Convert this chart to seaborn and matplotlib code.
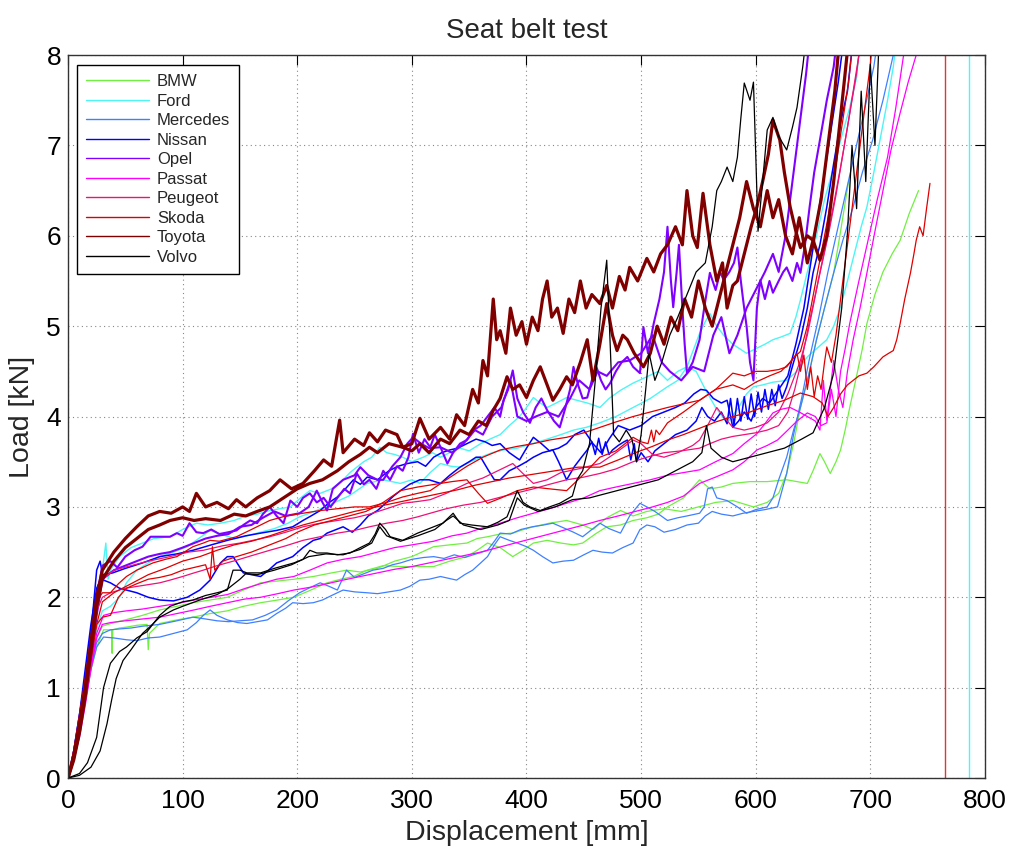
import matplotlib
matplotlib.use('Agg')
import matplotlib.pyplot as plt
import seaborn as sns
import pandas as pd

sns.set_theme(style='white')
plt.rcParams['font.family'] = ['Liberation Sans', 'DejaVu Sans']

# ---------------- data (displacement mm, load kN) ----------------
brands = ['BMW', 'Ford', 'Mercedes', 'Nissan', 'Opel', 'Passat', 'Peugeot', 'Skoda', 'Toyota', 'Volvo']
colors = ['#70f040', '#4df5f5', '#3f80ff', '#0000ff', '#8000ff', '#ff00ff', '#ee1177', '#e00000', '#800000', '#000000']

bmw_1 = [(0,0),(5,0.2),(10,0.5),(15,0.85),(20,1.2),(25,1.45),(31,1.64),(38,1.64),(38.5,1.38),(39,1.64),(45,1.66),(51,1.67),(60,1.69),(69,1.7),(70,1.42),(71,1.6),(80,1.71),(95,1.75),(109,1.78),(124,1.82),(139,1.85),(153,1.9),(168,1.94),(183,1.97),(197,2.0),(210,2.07),(226,2.16),(238,2.2),(249,2.23),(261,2.3),(275,2.35),(290,2.34),(305,2.34),(319,2.34),(333,2.4),(348,2.45),(357,2.52),(366,2.6),(377,2.55),(388,2.45),(397,2.52),(406,2.6),(418,2.63),(430,2.6),(441,2.58),(449,2.6),(460,2.7),(470,2.78),(482,2.8),(493,2.85),(505,2.88),(515,2.92),(523,3.0),(537,3.1),(551,3.3),(560,3.2),(570,3.22),(580,3.26),(595,3.28),(610,3.28),(627,3.3),(645,3.26),(650,3.4),(656,3.59),(660,3.5),(665,3.37),(670,3.5),(674,3.63),(678,3.85),(682,4.1),(688,4.45),(693,4.75),(697,5.03),(704,5.35),(711,5.6),(719,5.8),(726,5.95),(734,6.25),(742,6.5)]
bmw_2 = [(0,0),(5,0.25),(10,0.55),(15,0.9),(20,1.3),(25,1.55),(30,1.68),(40,1.72),(50,1.75),(65,1.8),(80,1.86),(95,1.9),(109,1.94),(124,1.97),(139,2.0),(153,2.08),(168,2.16),(183,2.18),(197,2.2),(214,2.23),(230,2.27),(243,2.3),(255,2.28),(270,2.32),(285,2.4),(300,2.45),(319,2.56),(333,2.58),(348,2.6),(357,2.65),(366,2.67),(377,2.7),(388,2.71),(400,2.76),(406,2.78),(420,2.82),(435,2.85),(449,2.8),(458,2.75),(470,2.88),(482,2.96),(493,2.9),(505,2.95),(520,2.98),(535,2.95),(550,3.0),(565,3.05),(580,3.07),(598,3.0),(610,3.05),(620,3.15),(627,3.37),(633,3.7),(639,4.1),(646,4.45),(653,4.85),(660,5.2),(668,5.59),(674,6.05),(681,6.6)]

ford_1 = [(0,0),(5,0.25),(10,0.6),(15,1.0),(20,1.5),(25,2.0),(30,2.3),(33,2.6),(35,2.2),(37,2.3),(45,2.45),(55,2.55),(65,2.6),(75,2.65),(89,2.67),(100,2.75),(112,2.82),(122,2.8),(133,2.82),(145,2.85),(155,2.9),(165,2.92),(176,2.96),(185,2.98),(194,3.0),(203,3.1),(211,3.18),(220,3.15),(230,3.2),(240,3.3),(246,3.38),(252,3.44),(258,3.5),(265,3.55),(272,3.66),(278,3.6),(285,3.58),(292,3.55),(300,3.5),(310,3.55),(318,3.6),(325,3.55),(333,3.6),(342,3.65),(350,3.62),(360,3.7),(368,3.75),(377,3.8),(385,3.9),(394,4.0),(400,4.1),(406,4.21),(412,4.15),(418,4.1),(426,4.15),(435,4.21),(444,4.18),(453,4.15),(460,4.12),(464,4.1),(472,4.2),(482,4.29),(493,4.37),(505,4.44),(515,4.5),(523,4.4),(532,4.5),(540,4.55),(546,4.75),(551,4.92),(556,5.05),(560,5.14),(566,5.0),(572,4.9),(580,4.8),(586,4.75),(592,4.7),(600,4.75),(608,4.8),(615,4.85),(622,4.88),(630,4.92),(635,5.1),(639,5.29),(646,5.65),(653,6.0),(660,6.4),(668,6.76),(675,7.1),(682,7.42),(688,7.75),(692,8.3)]
ford_2 = [(0,0),(5,0.2),(10,0.5),(15,0.85),(20,1.25),(25,1.65),(30,1.85),(37,1.9),(45,2.0),(51,2.16),(60,2.3),(70,2.38),(80,2.45),(92,2.5),(104,2.56),(114,2.65),(124,2.74),(133,2.7),(145,2.65),(156,2.68),(168,2.72),(180,2.76),(192,2.82),(202,2.89),(215,2.95),(231,3.04),(245,3.12),(261,3.26),(275,3.3),(290,3.26),(300,3.3),(307,3.26),(316,3.38),(325,3.48),(334,3.45),(342,3.44),(351,3.5),(360,3.55),(370,3.6),(380,3.63),(392,3.65),(405,3.7),(418,3.75),(430,3.8),(441,3.85),(452,3.88),(464,3.93),(478,4.0),(493,4.1),(508,4.2),(523,4.33),(532,4.4),(540,4.55),(548,4.5),(556,4.3),(565,4.1),(575,3.93),(585,4.1),(592,4.25),(598,4.33),(606,4.35),(615,4.38),(627,4.4),(636,4.5),(645,4.66),(653,4.75),(662,4.85),(668,5.0),(674,5.21),(680,5.5),(686,5.8),(692,6.1),(697,6.32),(703,6.7),(709,7.1),(715,7.5),(720,7.87),(724,8.3)]
ford_end_x = 786

mercedes_1 = [(0,0),(5,0.2),(10,0.5),(15,0.85),(20,1.2),(25,1.45),(31,1.56),(40,1.55),(51,1.53),(60,1.52),(70,1.55),(80,1.56),(92,1.6),(104,1.64),(112,1.72),(118,1.8),(124,1.86),(130,1.8),(139,1.75),(148,1.72),(156,1.71),(165,1.73),(174,1.75),(182,1.82),(190,1.88),(196,1.94),(205,1.93),(214,1.94),(222,1.97),(230,2.02),(240,2.08),(250,2.06),(261,2.05),(270,2.04),(280,2.06),(290,2.08),(298,2.12),(307,2.19),(315,2.2),(325,2.23),(332,2.21),(339,2.19),(346,2.25),(353,2.3),(360,2.38),(366,2.45),(372,2.58),(377,2.67),(385,2.63),(392,2.6),(400,2.56),(406,2.52),(414,2.45),(423,2.38),(432,2.4),(441,2.41),(450,2.47),(458,2.52),(466,2.5),(475,2.49),(484,2.55),(493,2.6),(499,2.75),(505,2.8),(512,2.78),(520,2.72),(530,2.75),(540,2.8),(550,2.82),(556,2.9),(562,2.95),(570,2.92),(580,2.9),(589,2.93),(598,2.95),(608,2.97),(619,3.0),(627,3.37),(633,3.8),(640,4.2),(647,4.65),(655,5.1),(663,5.6),(671,6.05),(679,6.5),(687,6.95),(695,7.4),(703,7.87),(708,8.3)]
mercedes_2 = [(0,0),(5,0.25),(10,0.55),(15,0.9),(20,1.25),(25,1.5),(30,1.6),(37,1.64),(45,1.65),(55,1.66),(65,1.68),(80,1.7),(95,1.74),(109,1.78),(120,1.76),(130,1.74),(140,1.73),(150,1.74),(161,1.75),(172,1.8),(182,1.86),(192,1.96),(202,2.05),(210,2.1),(220,2.16),(228,2.12),(235,2.08),(243,2.3),(250,2.22),(258,2.26),(266,2.3),(275,2.32),(283,2.36),(290,2.38),(300,2.42),(310,2.44),(319,2.45),(328,2.43),(337,2.47),(346,2.44),(356,2.48),(366,2.52),(372,2.62),(377,2.71),(386,2.7),(395,2.75),(405,2.78),(415,2.8),(423,2.82),(432,2.77),(441,2.72),(449,2.67),(457,2.75),(464,2.82),(472,2.76),(482,2.71),(490,2.9),(499,3.04),(505,3.0),(512,2.95),(523,2.85),(532,2.88),(540,2.9),(551,2.93),(555,3.0),(558,3.2),(562,3.22),(566,3.1),(575,3.07),(584,3.0),(592,2.93),(600,2.97),(610,3.0),(615,3.1),(620,3.3),(627,3.55),(633,3.85),(639,4.1),(646,4.45),(653,4.85),(660,5.2),(668,5.59),(676,5.95),(685,6.32),(693,6.7),(702,7.06),(711,7.5),(720,8.0),(724,8.3)]

nissan_1 = [(0,0),(5,0.3),(10,0.7),(15,1.1),(20,1.6),(25,2.3),(28,2.4),(31,2.19),(37,2.16),(45,2.1),(51,2.08),(60,2.05),(70,2.0),(80,1.97),(92,1.96),(104,2.0),(115,2.08),(124,2.19),(133,2.38),(139,2.45),(144,2.45),(153,2.27),(160,2.25),(168,2.23),(175,2.3),(182,2.38),(190,2.42),(196,2.45),(205,2.55),(214,2.63),(220,2.65),(226,2.71),(232,2.74),(240,2.78),(248,2.72),(255,2.8),(262,2.9),(270,2.96),(278,3.05),(284,3.12),(290,3.18),(298,3.25),(307,3.3),(315,3.3),(325,3.26),(333,3.35),(342,3.44),(350,3.5),(356,3.55),(360,3.55),(367,3.4),(372,3.3),(377,3.3),(385,3.4),(393,3.45),(400,3.5),(406,3.55),(414,3.6),(423,3.63),(428,3.5),(435,3.3),(442,3.45),(448,3.55),(453,3.63),(457,3.72),(460,3.58),(463,3.76),(466,3.58),(469,3.72),(472,3.58),(475,3.63),(480,3.68),(485,3.72),(488,3.74),(491,3.52),(494,3.7),(496,3.5),(500,3.6),(506,3.5),(512,3.62),(520,3.7),(530,3.8),(540,3.85),(548,3.95),(553,4.1),(558,4.0),(564,3.95),(570,4.05),(575,3.92),(578,4.2),(581,3.9),(584,4.2),(587,3.95),(590,4.22),(593,3.97),(596,4.25),(599,4.0),(602,4.27),(605,4.05),(608,4.3),(611,4.08),(614,4.3),(617,4.12),(620,4.35),(623,4.2),(627,4.33),(633,4.6),(639,4.85),(645,5.2),(650,5.59),(656,5.9),(662,6.32),(668,6.8),(674,7.25),(680,7.6),(686,8.3)]
nissan_2 = [(0,0),(5,0.3),(10,0.7),(15,1.2),(20,1.7),(25,2.1),(30,2.25),(39,2.27),(50,2.32),(65,2.38),(80,2.45),(95,2.48),(109,2.52),(125,2.58),(139,2.63),(155,2.68),(168,2.71),(182,2.74),(196,2.78),(205,2.85),(212,2.9),(220,2.96),(228,3.05),(235,3.11),(242,3.2),(249,3.3),(255,3.25),(261,3.33),(270,3.3),(280,3.4),(288,3.45),(296,3.48),(305,3.5),(312,3.45),(319,3.55),(326,3.6),(333,3.63),(340,3.65),(348,3.7),(356,3.75),(364,3.72),(370,3.68),(377,3.7),(385,3.6),(394,3.52),(400,3.65),(406,3.77),(413,3.7),(420,3.62),(428,3.65),(435,3.7),(442,3.8),(450,3.85),(458,3.7),(465,3.6),(472,3.75),(480,3.9),(490,3.85),(500,3.9),(510,4.0),(520,4.05),(530,4.1),(538,4.15),(546,4.25),(552,4.3),(557,4.29),(563,4.2),(570,4.15),(575,4.18),(580,3.88),(585,3.95),(590,4.05),(596,3.95),(600,4.1),(606,4.2),(612,4.15),(620,4.3),(628,4.45),(635,4.8),(642,5.2),(648,5.7),(654,6.2),(660,6.7),(666,7.2),(672,7.7),(678,8.3)]

opel_1 = [(0,0),(5,0.25),(10,0.6),(15,1.0),(20,1.5),(25,2.0),(30,2.35),(37,2.4),(43,2.33),(50,2.45),(58,2.52),(65,2.56),(72,2.67),(80,2.67),(89,2.67),(95,2.71),(100,2.68),(106,2.82),(112,2.72),(118,2.71),(125,2.75),(132,2.7),(140,2.72),(147,2.74),(153,2.8),(159,2.85),(165,2.82),(170,2.92),(176,3.0),(182,2.9),(188,2.82),(194,3.07),(200,3.0),(205,3.1),(211,3.15),(217,3.05),(223,3.1),(229,3.0),(235,3.1),(241,3.2),(246,3.15),(252,3.37),(258,3.25),(263,3.3),(269,3.2),(275,3.4),(281,3.3),(287,3.45),(292,3.4),(297,3.55),(301,3.81),(306,3.6),(311,3.75),(316,3.66),(320,3.8),(325,3.66),(331,3.48),(336,3.6),(342,3.7),(348,3.74),(354,3.85),(360,3.9),(366,4.0),(372,4.1),(377,4.0),(380,4.18),(384,4.3),(388,4.51),(392,4.2),(397,4.05),(403,3.93),(408,4.1),(413,4.2),(418,4.07),(424,3.95),(429,3.88),(434,4.1),(438,4.3),(441,4.55),(445,4.35),(449,4.2),(453,4.21),(457,4.4),(461,4.55),(465,4.4),(469,4.3),(473,4.37),(478,4.5),(483,4.6),(488,4.66),(493,4.55),(499,4.48),(502,4.99),(506,4.7),(511,5.03),(516,5.3),(520,5.6),(523,6.1),(526,5.5),(528,5.21),(531,5.6),(533,5.9),(536,5.2),(538,4.8),(540,4.48),(545,4.6),(551,4.85),(555,5.2),(560,5.59),(565,5.4),(569,5.6),(572,5.51),(577,5.6),(581,5.7),(584,5.87),(587,5.5),(589,5.29),(592,5.0),(595,4.6),(598,4.4),(601,5.2),(604,5.51),(608,5.3),(612,5.5),(615,5.37),(620,5.5),(624,5.6),(627,5.65),(632,5.5),(636,5.7),(639,5.59),(643,5.9),(647,6.32),(651,6.7),(656,7.06),(662,7.5),(668,7.87),(672,8.3)]
opel_2 = [(0,0),(5,0.2),(10,0.5),(15,0.9),(20,1.3),(25,1.8),(30,2.2),(40,2.3),(50,2.35),(60,2.4),(70,2.45),(80,2.48),(89,2.5),(100,2.55),(110,2.6),(120,2.65),(130,2.68),(140,2.7),(150,2.78),(160,2.8),(170,2.88),(180,2.95),(190,2.9),(202,2.93),(210,3.0),(217,3.18),(222,3.05),(226,2.96),(231,3.2),(240,3.3),(250,3.35),(255,3.44),(262,3.35),(270,3.3),(275,3.3),(283,3.45),(290,3.55),(296,3.7),(301,3.77),(308,3.7),(315,3.65),(325,3.66),(335,3.6),(345,3.7),(355,3.85),(362,3.8),(370,4.0),(378,4.1),(386,4.4),(392,4.0),(400,3.95),(408,4.0),(418,4.05),(428,4.0),(438,4.2),(446,4.4),(455,4.3),(462,4.5),(470,4.45),(480,4.6),(490,4.62),(500,4.7),(510,4.9),(518,4.6),(525,4.5),(535,4.4),(545,4.55),(555,4.5),(563,4.9),(570,5.1),(577,4.7),(584,4.9),(592,5.2),(600,5.4),(608,5.6),(615,5.8),(620,5.6),(626,6.0),(632,6.6),(638,7.2),(644,7.8),(648,8.3)]

passat_1 = [(0,0),(5,0.2),(10,0.5),(15,0.85),(20,1.25),(25,1.6),(31,1.8),(40,1.83),(51,1.85),(65,1.87),(80,1.9),(95,1.93),(110,1.97),(125,2.0),(139,2.03),(155,2.1),(168,2.15),(182,2.2),(197,2.23),(211,2.3),(226,2.38),(240,2.42),(255,2.45),(270,2.5),(285,2.55),(300,2.58),(319,2.62),(335,2.68),(348,2.71),(362,2.77),(377,2.82),(392,2.88),(406,2.93),(420,2.98),(435,3.04),(450,3.1),(464,3.18),(478,3.22),(493,3.26),(508,3.3),(523,3.35),(537,3.38),(551,3.41),(565,3.5),(580,3.59),(590,3.7),(601,3.81),(608,3.92),(615,4.04),(622,4.08),(630,4.1),(638,4.05),(645,4.0),(652,3.95),(656,3.85),(659,4.4),(662,3.96),(665,4.3),(668,4.62),(672,4.3),(676,4.1),(680,4.5),(685,4.85),(691,5.2),(697,5.59),(704,6.05),(711,6.5),(718,6.95),(726,7.36),(733,7.7),(740,8.0),(743,8.3)]
passat_2 = [(0,0),(5,0.2),(10,0.45),(15,0.8),(20,1.2),(25,1.55),(30,1.7),(37,1.72),(50,1.74),(65,1.76),(80,1.78),(95,1.82),(110,1.86),(124,1.9),(139,1.94),(154,1.98),(168,2.0),(183,2.04),(197,2.08),(211,2.11),(226,2.15),(240,2.19),(255,2.23),(270,2.27),(285,2.31),(300,2.34),(315,2.38),(330,2.42),(345,2.46),(360,2.5),(375,2.55),(390,2.6),(405,2.65),(420,2.7),(435,2.75),(450,2.8),(464,2.85),(480,2.9),(495,2.95),(510,3.0),(523,3.05),(537,3.12),(551,3.26),(565,3.33),(580,3.41),(590,3.5),(601,3.63),(610,3.68),(619,3.74),(628,3.85),(636,3.95),(645,4.04),(652,4.0),(657,3.9),(662,3.93),(666,4.3),(670,4.0),(674,4.5),(678,4.75),(682,5.03),(690,5.5),(698,5.95),(706,6.4),(715,6.87),(722,7.4),(729,8.0),(732,8.3)]

peugeot_1 = [(0,0),(5,0.25),(10,0.6),(15,1.0),(20,1.45),(25,1.85),(30,2.0),(37,2.05),(50,2.1),(65,2.13),(80,2.16),(89,2.19),(100,2.23),(110,2.27),(118,2.3),(130,2.35),(147,2.41),(160,2.46),(176,2.52),(190,2.57),(205,2.63),(220,2.67),(235,2.71),(250,2.74),(263,2.78),(278,2.82),(292,2.85),(305,2.89),(316,2.93),(330,2.98),(345,3.02),(360,3.05),(375,3.1),(390,3.15),(406,3.2),(420,3.25),(435,3.3),(450,3.33),(464,3.37),(478,3.42),(493,3.5),(505,3.55),(520,3.6),(535,3.62),(551,3.65),(560,3.7),(570,3.75),(580,3.78),(590,3.8),(600,3.82),(610,3.85),(620,3.9),(628,4.05),(634,4.3),(640,4.62),(646,5.0),(652,5.35),(658,5.7),(664,6.05),(670,6.45),(676,6.9),(682,7.35),(688,7.8),(693,8.3)]
peugeot_2 = [(0,0),(5,0.3),(10,0.65),(15,1.05),(20,1.55),(25,2.0),(30,2.2),(40,2.3),(55,2.35),(70,2.4),(89,2.45),(105,2.5),(118,2.52),(135,2.57),(150,2.6),(165,2.64),(176,2.67),(190,2.72),(205,2.78),(220,2.82),(235,2.85),(250,2.88),(263,2.92),(278,2.98),(292,3.04),(305,3.06),(316,3.08),(330,3.15),(348,3.26),(362,3.32),(375,3.4),(388,3.48),(396,3.38),(406,3.26),(418,3.3),(430,3.38),(445,3.42),(464,3.48),(478,3.6),(493,3.74),(500,3.7),(510,3.58),(520,3.55),(532,3.6),(545,3.68),(551,3.74),(558,3.9),(566,4.1),(572,4.0),(580,3.88),(590,3.85),(600,3.88),(610,3.93),(620,4.05),(628,4.25),(634,4.45),(639,4.62),(645,4.9),(650,5.21),(656,5.6),(662,5.95),(668,6.35),(674,6.76),(680,7.2),(685,7.6),(690,8.0),(693,8.3)]

skoda_1 = [(0,0),(5,0.3),(10,0.7),(15,1.1),(20,1.55),(25,1.95),(30,2.05),(37,2.05),(44,2.15),(51,2.23),(60,2.3),(74,2.38),(85,2.42),(95,2.45),(109,2.56),(118,2.6),(124,2.63),(132,2.62),(147,2.67),(160,2.75),(176,2.85),(190,2.9),(205,2.93),(220,2.96),(235,2.98),(250,3.0),(263,3.0),(278,3.05),(292,3.11),(305,3.15),(316,3.18),(330,3.3),(348,3.45),(362,3.55),(377,3.63),(392,3.67),(406,3.7),(420,3.74),(435,3.77),(450,3.82),(464,3.88),(478,3.94),(493,4.0),(508,4.05),(523,4.1),(537,4.14),(551,4.18),(565,4.3),(580,4.48),(590,4.45),(600,4.5),(610,4.5),(620,4.52),(627,4.55),(633,4.65),(639,4.72),(645,5.0),(651,5.4),(657,5.8),(663,6.2),(669,6.7),(675,7.2),(681,7.7),(686,8.3)]
skoda_2 = [(0,0),(5,0.25),(10,0.6),(15,1.0),(20,1.4),(25,1.7),(30,1.78),(37,1.8),(44,2.0),(51,2.1),(60,2.15),(70,2.2),(80,2.22),(90,2.25),(100,2.3),(110,2.33),(120,2.36),(124,2.2),(126,2.56),(128,2.3),(135,2.4),(147,2.45),(160,2.5),(176,2.58),(190,2.65),(200,2.72),(215,2.8),(230,2.85),(245,2.9),(260,2.95),(275,3.05),(290,3.18),(305,3.22),(320,3.25),(335,3.28),(348,3.3),(358,3.15),(366,3.04),(378,3.1),(392,3.18),(406,3.22),(420,3.2),(435,3.18),(449,3.35),(464,3.55),(478,3.62),(493,3.77),(500,3.72),(506,3.7),(509,3.85),(511,3.72),(513,3.85),(516,3.8),(523,3.93),(537,4.05),(551,4.18),(565,4.3),(580,4.35),(590,4.3),(600,4.38),(612,4.45),(622,4.5),(630,4.6),(636,4.7),(639,4.5),(642,4.68),(645,4.3),(648,4.55),(651,4.22),(654,4.45),(657,4.3),(660,4.6),(662,4.77),(666,4.6),(670,4.9),(676,5.5),(682,6.1),(688,6.7),(694,7.3),(700,7.9),(703,8.3)]
skoda_3 = [(0,0),(5,0.25),(10,0.55),(15,0.9),(20,1.3),(25,1.7),(30,1.95),(40,2.05),(55,2.15),(70,2.25),(85,2.32),(100,2.4),(115,2.45),(130,2.52),(145,2.58),(160,2.62),(176,2.68),(190,2.74),(205,2.8),(220,2.85),(235,2.9),(250,2.95),(265,2.99),(280,3.03),(295,3.07),(310,3.11),(325,3.15),(340,3.19),(355,3.24),(370,3.28),(385,3.32),(400,3.35),(415,3.38),(430,3.41),(445,3.44),(464,3.44),(480,3.52),(495,3.6),(510,3.67),(523,3.74),(537,3.8),(551,3.87),(565,3.94),(580,4.0),(595,4.05),(610,4.12),(625,4.18),(639,4.26),(650,4.22),(658,4.15),(663,4.0),(668,4.1),(674,4.25),(680,4.35),(685,4.4),(690,4.45),(697,4.48),(703,4.55),(711,4.66),(716,4.7),(720,4.73),(723,4.85),(726,5.03),(730,5.3),(735,5.59),(738,5.8),(740,5.95),(743,6.1),(746,6.0),(749,6.3),(752,6.58)]
skoda_end_x = 765

toyota_1 = [(0,0),(5,0.25),(10,0.6),(15,1.0),(20,1.5),(25,2.0),(30,2.3),(40,2.5),(50,2.65),(60,2.78),(70,2.9),(80,2.95),(90,2.93),(100,3.0),(106,2.95),(112,3.15),(120,3.0),(130,3.05),(140,2.98),(147,3.08),(155,3.0),(165,3.1),(176,3.18),(185,3.3),(195,3.2),(205,3.26),(215,3.4),(223,3.52),(230,3.45),(237,3.96),(240,3.6),(250,3.75),(258,3.68),(263,3.82),(270,3.72),(277,3.85),(287,3.8),(292,3.66),(300,3.7),(307,3.98),(315,3.75),(325,3.88),(333,3.75),(339,4.02),(346,3.9),(353,4.3),(358,4.15),(362,4.62),(366,4.45),(371,5.3),(374,4.85),(377,4.95),(382,4.7),(386,5.2),(391,4.9),(396,5.05),(400,4.8),(405,5.1),(410,4.95),(414,5.3),(418,5.5),(422,5.1),(427,5.2),(432,4.92),(437,5.3),(442,5.15),(447,5.5),(452,5.2),(457,5.35),(464,5.25),(470,5.45),(475,5.2),(481,5.55),(486,5.4),(490,5.65),(497,5.5),(505,5.75),(511,5.6),(517,5.8),(523,5.9),(530,6.1),(536,5.9),(540,6.5),(545,6.0),(549,5.87),(554,6.47),(560,5.9),(566,5.5),(571,5.7),(575,5.2),(580,5.45),(584,5.5),(590,5.8),(596,6.1),(601,6.32),(606,6.6),(611,6.9),(615,7.28),(621,7.06),(625,6.7),(630,6.32),(635,6.05),(639,5.87),(645,6.0),(650,5.95),(656,5.73),(662,6.0),(668,6.6),(673,7.2),(678,7.8),(682,8.3)]
toyota_2 = [(0,0),(5,0.2),(10,0.5),(15,0.9),(20,1.4),(25,1.9),(30,2.2),(40,2.4),(50,2.55),(60,2.65),(70,2.75),(80,2.8),(89,2.85),(100,2.88),(110,2.85),(120,2.87),(133,2.85),(145,2.92),(155,2.9),(165,2.95),(176,3.0),(188,3.1),(200,3.2),(211,3.26),(222,3.3),(235,3.4),(245,3.5),(255,3.58),(263,3.66),(270,3.6),(280,3.7),(292,3.66),(300,3.62),(307,3.7),(315,3.6),(325,3.75),(333,3.7),(342,3.85),(350,3.8),(358,3.95),(365,3.9),(371,4.07),(377,4.2),(383,4.44),(388,4.3),(394,4.35),(400,4.21),(406,4.4),(412,4.55),(418,4.35),(423,4.18),(429,4.3),(435,4.44),(440,4.35),(447,4.6),(453,4.85),(458,4.4),(464,4.8),(470,5.25),(475,4.9),(479,4.73),(484,4.9),(488,4.85),(494,4.7),(502,4.55),(508,4.7),(514,5.0),(520,4.8),(526,5.1),(532,4.95),(538,5.3),(544,5.1),(550,5.5),(556,5.2),(562,5.0),(568,5.3),(574,5.6),(580,5.9),(586,6.2),(592,6.6),(598,6.3),(604,6.1),(610,6.5),(615,6.2),(620,6.4),(626,6.0),(632,5.8),(638,6.2),(645,5.7),(651,6.0),(657,6.4),(663,7.0),(669,7.6),(674,8.3)]

volvo_1 = [(0,0),(10,0.05),(17,0.17),(25,0.45),(31,1.0),(37,1.27),(45,1.4),(51,1.45),(60,1.55),(69,1.62),(80,1.8),(89,1.9),(100,1.95),(109,1.97),(120,2.02),(130,2.05),(139,2.08),(144,2.3),(150,2.3),(156,2.27),(168,2.27),(180,2.32),(197,2.38),(205,2.42),(211,2.52),(217,2.49),(226,2.49),(235,2.47),(246,2.49),(255,2.55),(263,2.6),(268,2.7),(272,2.82),(277,2.75),(281,2.67),(292,2.63),(305,2.71),(315,2.76),(327,2.82),(336,2.93),(342,2.82),(352,2.8),(366,2.78),(375,2.83),(383,2.89),(388,3.05),(392,3.18),(397,3.05),(403,3.0),(412,2.96),(420,3.0),(429,3.04),(440,3.12),(444,3.3),(449,3.4),(455,3.7),(460,4.4),(465,5.2),(470,5.73),(473,4.8),(476,3.8),(481,3.72),(487,3.85),(492,3.75),(496,3.5),(500,3.8),(504,4.3),(507,4.7),(512,4.4),(518,4.6),(525,4.9),(532,5.1),(540,5.35),(548,5.6),(556,5.7),(562,6.1),(566,6.5),(570,6.6),(575,6.76),(580,6.6),(584,6.87),(587,7.3),(590,7.69),(595,7.5),(598,7.7),(600,6.9),(602,6.05),(606,6.6),(610,7.17),(615,7.31),(620,7.1),(627,6.95),(632,7.2),(636,7.42),(641,7.87),(645,8.3)]
volvo_2 = [(0,0),(10,0.03),(20,0.12),(28,0.3),(34,0.6),(38,0.86),(42,1.1),(48,1.3),(55,1.42),(65,1.6),(72,1.68),(80,1.78),(92,1.86),(100,1.9),(115,1.97),(130,2.03),(140,2.1),(150,2.2),(155,2.26),(165,2.25),(180,2.3),(195,2.36),(210,2.45),(225,2.48),(240,2.47),(255,2.53),(265,2.6),(272,2.78),(278,2.68),(290,2.62),(305,2.68),(320,2.75),(330,2.85),(336,2.9),(345,2.8),(360,2.75),(375,2.8),(385,2.85),(392,3.1),(398,3.02),(410,2.95),(425,3.0),(440,3.08),(455,3.1),(470,3.15),(485,3.2),(500,3.25),(515,3.3),(530,3.4),(545,3.5),(553,3.6),(557,3.9),(561,3.65),(570,3.55),(580,3.5),(595,3.55),(610,3.6),(625,3.65),(640,3.75),(650,3.82),(660,4.1),(668,4.48),(675,5.2),(680,6.03),(684,7.0),(688,6.3),(692,7.6),(696,6.6),(700,7.9),(704,7.0),(708,8.3)]

x_ticks = [0, 100, 200, 300, 400, 500, 600, 700, 800]
y_ticks = [0, 1, 2, 3, 4, 5, 6, 7, 8]

brand_curves = {
    'BMW': [bmw_1, bmw_2],
    'Ford': [ford_1, ford_2],
    'Mercedes': [mercedes_1, mercedes_2],
    'Nissan': [nissan_1, nissan_2],
    'Opel': [opel_1, opel_2],
    'Passat': [passat_1, passat_2],
    'Peugeot': [peugeot_1, peugeot_2],
    'Skoda': [skoda_1, skoda_2, skoda_3],
    'Toyota': [toyota_1, toyota_2],
    'Volvo': [volvo_1, volvo_2],
}
line_widths = {'BMW': 0.9, 'Ford': 1.0, 'Mercedes': 0.9, 'Nissan': 1.1, 'Opel': 1.5,
               'Passat': 0.9, 'Peugeot': 0.9, 'Skoda': 0.9, 'Toyota': 2.3, 'Volvo': 0.9}

# ---------------- figure ----------------
fig = plt.figure(figsize=(10.09, 8.48), dpi=100)
ax = fig.add_axes([0.0674, 0.0825, 0.9088, 0.8526])

for brand, color in zip(brands, colors):
    for i, curve in enumerate(brand_curves[brand]):
        df = pd.DataFrame(curve, columns=['x', 'y'])
        sns.lineplot(data=df, x='x', y='y', ax=ax, color=color, lw=line_widths[brand],
                     sort=False, estimator=None, legend=False,
                     label=brand if i == 0 else '_nolegend_')

ax.axvline(skoda_end_x, color=colors[7], lw=1.0, alpha=0.8)
ax.axvline(ford_end_x, color=colors[1], lw=1.0)

ax.set_xlim(0, 800)
ax.set_ylim(0, 8)
ax.set_xticks(x_ticks)
ax.set_yticks(y_ticks)
ax.grid(True, linestyle=(0, (1, 3)), color='#888888', lw=0.8)
for s in ax.spines.values():
    s.set_color('#333333')
    s.set_linewidth(1.0)
    s.set_visible(True)
ax.tick_params(direction='in', length=7, width=0.8, top=True, right=True,
               labelsize=19, colors='#000000')
ax.tick_params(axis='x', pad=8)
ax.tick_params(axis='y', pad=5)

ax.set_title('Seat belt test', fontsize=20, pad=12)
ax.set_xlabel('Displacement [mm]', fontsize=20.5, labelpad=5)
ax.set_ylabel('Load [kN]', fontsize=20.5, labelpad=8)

leg = ax.legend(loc='upper left', bbox_to_anchor=(0.0098, 0.986), borderaxespad=0,
                fontsize=12, frameon=True, fancybox=False, edgecolor='black',
                framealpha=1, handlelength=3.8, handletextpad=0.45,
                labelspacing=0.27, borderpad=0.55)
leg.get_frame().set_linewidth(1.0)
for h in leg.get_lines():
    h.set_linewidth(1.0)

fig.savefig('out.png', dpi=100)
